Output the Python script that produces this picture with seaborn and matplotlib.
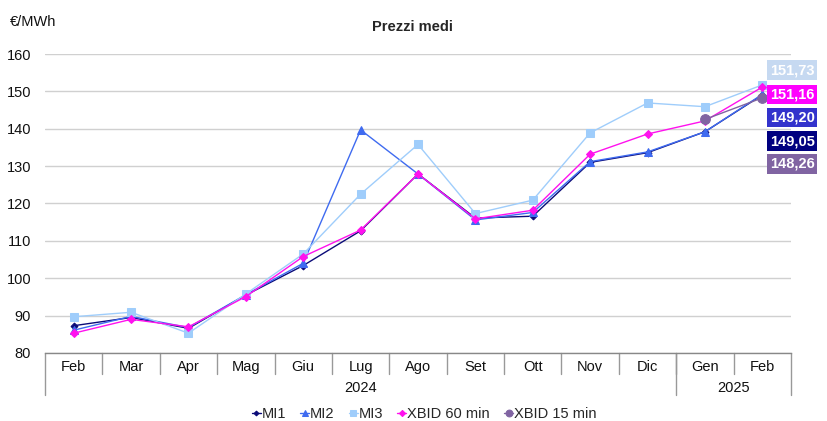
import numpy as np
import pandas as pd
import matplotlib
matplotlib.use("Agg")
import matplotlib.pyplot as plt
import matplotlib.transforms as mtransforms
import seaborn as sns

months = ["Feb", "Mar", "Apr", "Mag", "Giu", "Lug", "Ago", "Set", "Ott", "Nov", "Dic", "Gen", "Feb"]
years = ["2024", "2025"]
year_spans = [(0, 10), (11, 12)]

mi1 = [87.3, 89.5, 86.6, 95.5, 103.4, 112.7, 127.9, 116.1, 116.6, 131.0, 133.6, 139.2, 149.05]
mi2 = [86.1, 89.8, 86.8, 95.6, 104.0, 139.7, 127.9, 115.6, 117.6, 131.2, 133.8, 139.2, 149.20]
mi3 = [89.7, 90.9, 85.3, 95.8, 106.5, 122.5, 135.8, 117.3, 120.9, 138.9, 146.9, 145.9, 151.73]
xbid60 = [85.3, 89.0, 87.0, 95.1, 105.8, 112.9, 127.9, 115.9, 118.2, 133.2, 138.6, 142.1, 151.16]
xbid15 = [np.nan] * 11 + [142.5, 148.26]

series_names = ["MI1", "MI2", "MI3", "XBID 60 min", "XBID 15 min"]
series_vals = [mi1, mi2, mi3, xbid60, xbid15]
colors = ["#0b0b78", "#3f6bf0", "#9fcdfb", "#ff11ee", "#8064a2"]
label_bg = ["#000080", "#3333cc", "#c6d9f1", "#ff00ff", "#8064a2"]
markers = ["D", "^", "s", "D", "o"]
msizes = [3.5, 5.5, 6, 4.5, 7]

rows = []
for name, vals in zip(series_names, series_vals):
    for i, v in enumerate(vals):
        rows.append({"serie": name, "x": i, "val": v})
df = pd.DataFrame(rows)

sns.set_theme(style="white")
plt.rcParams["font.family"] = ["Liberation Sans", "DejaVu Sans"]

fig = plt.figure(figsize=(8.28, 4.21), dpi=100)
ax = fig.add_axes([45 / 828, 1 - 353 / 421, (791 - 45) / 828, (353 - 54) / 421])

for name, c, m, ms in zip(series_names, colors, markers, msizes):
    sub = df[df["serie"] == name].dropna()
    sns.lineplot(data=sub, x="x", y="val", ax=ax, color=c, marker=m, markersize=ms,
                 markeredgecolor=c, linewidth=1.0, label=name, zorder=3)

ax.set_xlim(-0.5, 12.5)
ax.set_ylim(80, 160)
ax.set_yticks(range(80, 161, 10))
ax.set_yticklabels([str(v) for v in range(80, 161, 10)], fontsize=10.5, color="#111111")
ax.yaxis.grid(True, color="#d0d0d0", linewidth=1.0)
ax.set_axisbelow(True)
ax.tick_params(axis="y", length=0, pad=10)
ax.set_xticks(range(len(months)))
ax.set_xticklabels([])
ax.tick_params(axis="x", length=0)
ax.set_xlabel("")
ax.set_ylabel("")
for s in ["top", "right", "left"]:
    ax.spines[s].set_visible(False)
ax.spines["bottom"].set_color("#888888")
ax.spines["bottom"].set_linewidth(1.0)

trans = mtransforms.blended_transform_factory(ax.transData, ax.transAxes)
for i, m in enumerate(months):
    ax.text(i, -0.047, m, transform=trans, ha="center", va="center", fontsize=10.5, color="#111111")
for i in range(1, len(months)):
    ax.plot([i - 0.5, i - 0.5], [0, -0.07], transform=trans, color="#999999", lw=1.0, clip_on=False)
for (a, b), yr in zip(year_spans, years):
    ax.text((a + b) / 2, -0.117, yr, transform=trans, ha="center", va="center", fontsize=10.5, color="#111111")
for xb in [-0.5, 10.5, 12.5]:
    ax.plot([xb, xb], [0, -0.14], transform=trans, color="#999999", lw=1.0, clip_on=False)

# value labels at the right
label_y = [136.7, 143.1, 155.7, 149.2, 130.6]
for name, vals, bg, ly in zip(series_names, series_vals, label_bg, label_y):
    last = vals[-1]
    ax.text(12.52, ly, f"{last:.2f}".replace(".", ","), ha="center", va="center",
            fontsize=10.5, fontweight="bold", color="white", clip_on=False,
            bbox=dict(boxstyle="square,pad=0.18", facecolor=bg, edgecolor="none"))

fig.text(10 / 828, 1 - 22 / 421, "€/MWh", fontsize=10.5, ha="left", va="center", color="#111111")
fig.text(412 / 828, 1 - 27 / 421, "Prezzi medi", fontsize=10.5, fontweight="bold", ha="center", va="center")

leg = ax.legend(loc="center", bbox_to_anchor=(0.508, -0.205), ncol=5, frameon=False,
                fontsize=10.5, handlelength=0.6, handletextpad=0.05, columnspacing=1.0,
                markerscale=0.7)
for line in leg.get_lines():
    line.set_linewidth(1.0)

fig.savefig("out.png", dpi=100)
